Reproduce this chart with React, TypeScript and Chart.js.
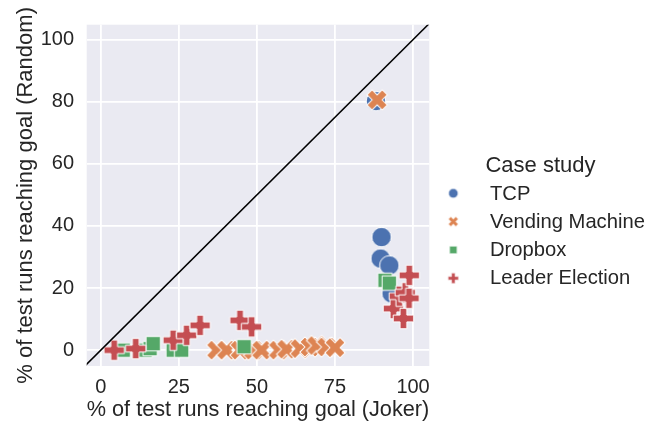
import React, { useEffect, useRef } from "react";
import { Chart, registerables } from "chart.js";

Chart.register(...registerables);

// ---- data ----
const seriesNames = ["TCP", "Vending Machine", "Dropbox", "Leader Election"];
const legendTitle = "Case study";

const tcpX = [88.1, 89.9, 89.6, 92.4, 93.1];
const tcpY = [80.2, 36.4, 29.5, 27.3, 18.3];

const vmX = [88.5, 37.1, 40.3, 44.6, 48.9, 51.5, 56.9, 59.5, 63.8, 67.0, 69.1, 72.3, 75.0];
const vmY = [80.6, 0, 0, 0, 0, 0, 0, 0.3, 0.5, 1.0, 1.5, 1.0, 0.8];

const dbX = [7.2, 14.2, 15.8, 16.8, 23.2, 25.9, 45.9, 91.0, 92.4];
const dbY = [0, 0, 0.5, 2.1, 0, 0, 1.1, 22.5, 21.6];

const leX = [4.3, 11.2, 23.2, 27.5, 31.8, 44.6, 48.3, 93.7, 95.6, 96.9, 97.5, 98.7, 98.8];
const leY = [0, 0.5, 3.2, 4.8, 8.0, 9.6, 7.5, 13.4, 17.4, 10.2, 18.5, 16.7, 24.1];

const xTicks = [0, 25, 50, 75, 100];
const yTicks = [0, 20, 40, 60, 80, 100];

const diagX = [-10, 110];
const diagY = [-10, 110];

const xTitle = "% of test runs reaching goal (Joker)";
const yTitle = "% of test runs reaching goal (Random)";

// ---- styles ----
const COLORS = ["#4C72B0", "#DD8452", "#55A868", "#C44E52"];
const SHAPES = ["circle", "x", "square", "plus"];
const MARK_SIZES = [19.5, 21.5, 14.5, 20.5];
const LEGEND_SIZES = [9.5, 10.5, 7.5, 10.5];
const FONT = "'Liberation Sans', Arial, Helvetica, sans-serif";
const TEXT = "#262626";

function makeMarker(shape: string, size: number, color: string, edge: number) {
  const pad = 2;
  const S = Math.ceil(size + pad * 2);
  const c = document.createElement("canvas");
  c.width = S;
  c.height = S;
  const ctx = c.getContext("2d")!;
  ctx.translate(S / 2, S / 2);
  ctx.beginPath();
  const h = size / 2;
  if (shape === "circle") {
    ctx.arc(0, 0, h, 0, Math.PI * 2);
  } else if (shape === "square") {
    ctx.rect(-h, -h, size, size);
  } else {
    const a = h / 3;
    const pts = [
      [-a, -h], [a, -h], [a, -a], [h, -a], [h, a], [a, a],
      [a, h], [-a, h], [-a, a], [-h, a], [-h, -a], [-a, -a],
    ];
    if (shape === "x") ctx.rotate(Math.PI / 4);
    pts.forEach(([px, py], i) => (i === 0 ? ctx.moveTo(px, py) : ctx.lineTo(px, py)));
    ctx.closePath();
  }
  ctx.fillStyle = color;
  ctx.fill();
  if (edge > 0) {
    ctx.lineWidth = edge;
    ctx.strokeStyle = "#ffffff";
    ctx.lineJoin = "miter";
    ctx.stroke();
  }
  return c;
}

const toPts = (xs: number[], ys: number[]) => xs.map((x, i) => ({ x, y: ys[i] }));

export default function App() {
  const ref = useRef<HTMLCanvasElement | null>(null);

  useEffect(() => {
    if (!ref.current) return;
    const markers = SHAPES.map((s, i) => makeMarker(s, MARK_SIZES[i], COLORS[i], 1));
    const legendMarkers = SHAPES.map((s, i) => makeMarker(s, LEGEND_SIZES[i], COLORS[i], 0.6));
    const seriesData = [toPts(tcpX, tcpY), toPts(vmX, vmY), toPts(dbX, dbY), toPts(leX, leY)];

    const bgPlugin = {
      id: "bg",
      beforeDraw(chart: any) {
        const { ctx, chartArea } = chart;
        ctx.save();
        ctx.fillStyle = "#EAEAF2";
        ctx.fillRect(chartArea.left, chartArea.top, chartArea.right - chartArea.left, chartArea.bottom - chartArea.top);
        ctx.restore();
      },
    };

    const legendPlugin = {
      id: "customLegend",
      afterDraw(chart: any) {
        const { ctx } = chart;
        ctx.save();
        ctx.fillStyle = TEXT;
        ctx.textBaseline = "alphabetic";
        ctx.font = `22px ${FONT}`;
        ctx.textAlign = "center";
        ctx.fillText(legendTitle, 540.5, 171.7);
        ctx.font = `20.2px ${FONT}`;
        ctx.textAlign = "left";
        seriesNames.forEach((name, i) => {
          const cy = 193.3 + i * 28.3;
          const m = legendMarkers[i];
          ctx.drawImage(m, 453.3 - m.width / 2, cy - m.height / 2);
          ctx.fillText(name, 490, 199.5 + i * 28.3);
        });
        ctx.restore();
      },
    };

    const chart = new Chart(ref.current, {
      type: "scatter",
      data: {
        datasets: [
          {
            label: "diagonal",
            data: toPts(diagX, diagY),
            showLine: true,
            borderColor: "#000000",
            borderWidth: 1.5,
            pointRadius: 0,
            order: 0,
          } as any,
          ...seriesNames.map((name, i) => ({
            label: name,
            data: seriesData[i],
            pointStyle: markers[i],
            pointRadius: 10,
            order: 4 - i,
          })),
        ],
      },
      options: {
        animation: false,
        responsive: false,
        devicePixelRatio: 1,
        events: [],
        layout: { padding: { left: 0, right: 217.7, top: 24, bottom: 0 } },
        plugins: {
          legend: { display: false },
          tooltip: { enabled: false },
        },
        scales: {
          x: {
            type: "linear",
            min: -4.5,
            max: 105.2,
            afterBuildTicks: (scale: any) => {
              scale.ticks = xTicks.map((v) => ({ value: v }));
            },
            afterFit: (scale: any) => {
              scale.height = 60;
            },
            grid: { color: "#ffffff", lineWidth: 1.8, drawTicks: false, tickLength: 0 },
            border: { display: false },
            ticks: { color: TEXT, font: { family: FONT, size: 20 }, padding: 9, maxRotation: 0 },
            title: {
              display: true,
              text: xTitle,
              color: TEXT,
              font: { family: FONT, size: 22 },
              padding: { top: 0, bottom: 2.5 },
            },
          },
          y: {
            type: "linear",
            min: -5.1,
            max: 104.8,
            afterBuildTicks: (scale: any) => {
              scale.ticks = yTicks.map((v) => ({ value: v }));
            },
            afterFit: (scale: any) => {
              scale.width = 86.7;
            },
            grid: { color: "#ffffff", lineWidth: 1.8, drawTicks: false, tickLength: 0 },
            border: { display: false },
            ticks: { color: TEXT, font: { family: FONT, size: 20 }, padding: 12.7 },
            title: {
              display: true,
              text: yTitle,
              color: TEXT,
              font: { family: FONT, size: 22 },
              padding: { top: 12.5, bottom: 0 },
            },
          },
        },
      },
      plugins: [bgPlugin, legendPlugin],
    } as any);

    return () => chart.destroy();
  }, []);

  return (
    <div style={{ position: "fixed", left: 0, top: 0, width: 647, height: 426, background: "#ffffff" }}>
      <canvas ref={ref} width={647} height={426} style={{ display: "block", width: 647, height: 426 }} />
    </div>
  );
}
